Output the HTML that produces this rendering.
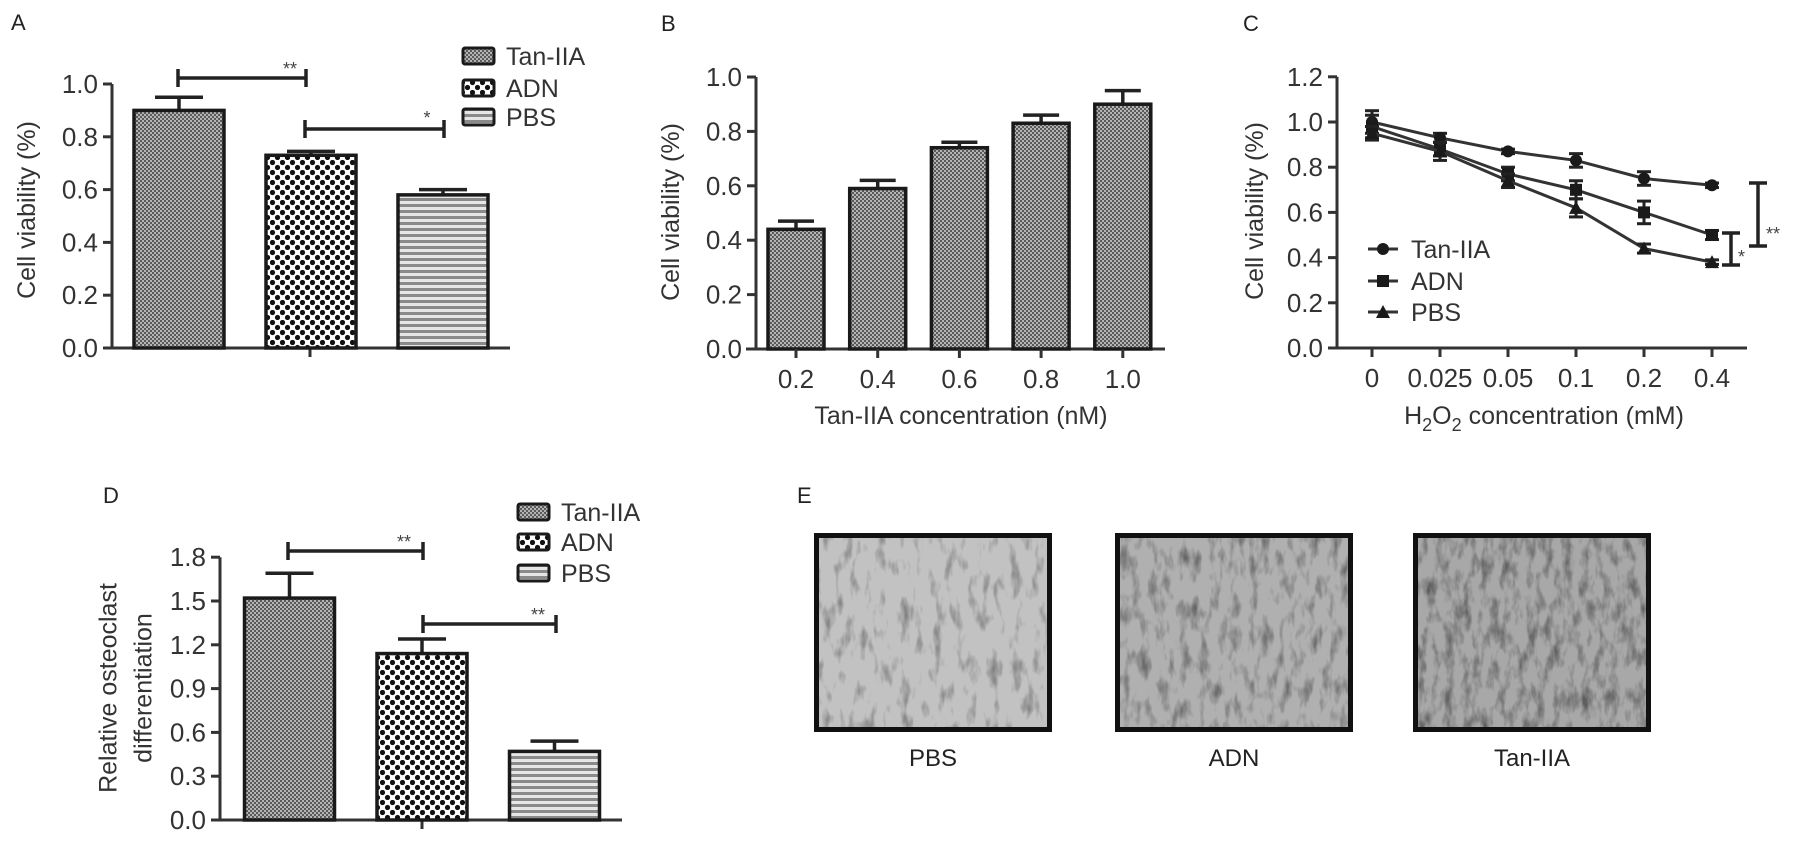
<!DOCTYPE html>
<html><head><meta charset="utf-8"><style>
html,body{margin:0;padding:0;background:#fff;}
svg{display:block;font-family:"Liberation Sans",Arial,sans-serif;}
</style></head><body>
<svg id="fig" width="1795" height="842" viewBox="0 0 1795 842" xmlns="http://www.w3.org/2000/svg">
<defs>
<pattern id="patTan" width="4" height="4" patternUnits="userSpaceOnUse"><rect width="4" height="4" fill="#b4b4b4"/><rect width="2" height="2" fill="#5a5a5a"/><rect x="2" y="2" width="2" height="2" fill="#5a5a5a"/></pattern>
<pattern id="patADN" width="10" height="10" patternUnits="userSpaceOnUse"><rect width="10" height="10" fill="#fff"/><circle cx="2.5" cy="2.5" r="2.6" fill="#111"/><circle cx="7.5" cy="7.5" r="2.6" fill="#111"/></pattern>
<pattern id="patPBS" width="6" height="6" patternUnits="userSpaceOnUse"><rect width="6" height="6" fill="#e6e6e6"/><rect y="0" width="6" height="3" fill="#8a8a8a"/></pattern>
<filter id="cells1" x="0" y="0" width="100%" height="100%"><feTurbulence type="fractalNoise" baseFrequency="0.09 0.035" numOctaves="3" seed="3"/><feColorMatrix type="matrix" values="0 0 0 0 0  0 0 0 0 0  0 0 0 0 0  0 0 0 -2.2 1.05"/><feComponentTransfer><feFuncA type="linear" slope="0.45"/></feComponentTransfer></filter>
<filter id="cells2" x="0" y="0" width="100%" height="100%"><feTurbulence type="fractalNoise" baseFrequency="0.1 0.04" numOctaves="3" seed="7"/><feColorMatrix type="matrix" values="0 0 0 0 0  0 0 0 0 0  0 0 0 0 0  0 0 0 -2.2 1.15"/><feComponentTransfer><feFuncA type="linear" slope="0.45"/></feComponentTransfer></filter>
<filter id="cells3" x="0" y="0" width="100%" height="100%"><feTurbulence type="fractalNoise" baseFrequency="0.11 0.045" numOctaves="3" seed="11"/><feColorMatrix type="matrix" values="0 0 0 0 0  0 0 0 0 0  0 0 0 0 0  0 0 0 -2.2 1.25"/><feComponentTransfer><feFuncA type="linear" slope="0.45"/></feComponentTransfer></filter>
</defs>
</svg>
<script>
// ---- Panel A data ----
const aCategories = ["Tan-IIA","ADN","PBS"];
const aValues = [0.90, 0.73, 0.58];
const aErrors = [0.05, 0.015, 0.02];
const aTicks = ["0.0","0.2","0.4","0.6","0.8","1.0"];
// ---- Panel B data ----
const bCategories = ["0.2","0.4","0.6","0.8","1.0"];
const bValues = [0.44, 0.59, 0.74, 0.83, 0.90];
const bErrors = [0.03, 0.03, 0.02, 0.03, 0.05];
const bTicks = ["0.0","0.2","0.4","0.6","0.8","1.0"];
// ---- Panel C data ----
const cCategories = ["0","0.025","0.05","0.1","0.2","0.4"];
const cTan = [1.00, 0.93, 0.87, 0.83, 0.75, 0.72];
const cTanErr = [0.05, 0.02, 0.01, 0.03, 0.03, 0.01];
const cADN = [0.98, 0.88, 0.77, 0.70, 0.60, 0.50];
const cADNErr = [0.05, 0.03, 0.03, 0.04, 0.05, 0.02];
const cPBS = [0.95, 0.87, 0.74, 0.62, 0.44, 0.38];
const cPBSErr = [0.03, 0.04, 0.03, 0.04, 0.02, 0.01];
const cTicks = ["0.0","0.2","0.4","0.6","0.8","1.0","1.2"];
// ---- Panel D data ----
const dCategories = ["Tan-IIA","ADN","PBS"];
const dValues = [1.52, 1.14, 0.47];
const dErrors = [0.17, 0.10, 0.07];
const dTicks = ["0.0","0.3","0.6","0.9","1.2","1.5","1.8"];

const NS = "http://www.w3.org/2000/svg";
const svg = document.getElementById("fig");
function mk(tag, attrs, parent, txt){
  const e = document.createElementNS(NS, tag);
  for (const k in attrs) e.setAttribute(k, attrs[k]);
  if (txt !== undefined) e.textContent = txt;
  (parent || svg).appendChild(e);
  return e;
}
function group(name){
  const g = mk("g", {});
  
  
  return g;
}
const pats = {"Tan-IIA":"url(#patTan)","ADN":"url(#patADN)","PBS":"url(#patPBS)"};

function label(t, x, y, g){
  const e = mk("text",{x:x,y:y,"font-size":22,fill:"#222"},g,t);
  
  
}
function yAxis(g, ax, y0, unit, step, ticks, top){
  const l = mk("line",{x1:ax,y1:y0,x2:ax,y2:y0-top*unit,stroke:"#333","stroke-width":3},g);
  
  
  ticks.forEach((t,i)=>{
    const y = y0 - i*step*unit;
    mk("line",{x1:ax-9,y1:y,x2:ax,y2:y,stroke:"#333","stroke-width":3},g);
    const tx = mk("text",{x:ax-14,y:y+9,"font-size":26,"text-anchor":"end",fill:"#333"},g,t);
    
    
  });
}
function yTitle(g, lines, cx, cy){
  lines.forEach((t,i)=>{
    const x = cx + i*35 - (lines.length-1)*17.5;
    const e = mk("text",{x:x,y:cy,"font-size":25,"text-anchor":"middle","dominant-baseline":"central",fill:"#333",transform:`rotate(-90 ${x} ${cy})`},g,t);
    
    
  });
}
function xAxisLine(g, x1, x2, y0){
  const l = mk("line",{x1:x1,y1:y0,x2:x2,y2:y0,stroke:"#333","stroke-width":3},g);
  
  
}
function bars(g, cats, vals, errs, y0, unit, cx0, stepX, w, capW, fillFn, xLabels){
  vals.forEach((v,i)=>{
    const cx = cx0 + i*stepX;
    const top = y0 - v*unit;
    const et = y0 - (v+errs[i])*unit;
    mk("line",{x1:cx,y1:top,x2:cx,y2:et,stroke:"#222","stroke-width":3.5},g);
    mk("line",{x1:cx-capW/2,y1:et,x2:cx+capW/2,y2:et,stroke:"#222","stroke-width":3.5},g);
    const r = mk("rect",{x:cx-w/2,y:top,width:w,height:v*unit,fill:fillFn(cats[i]),stroke:"#1a1a1a","stroke-width":3.5},g);
    
    
    if (xLabels){
      mk("line",{x1:cx,y1:y0,x2:cx,y2:y0+9,stroke:"#333","stroke-width":3},g);
      const t = mk("text",{x:cx,y:y0+39,"font-size":26,"text-anchor":"middle",fill:"#333"},g,cats[i]);
      
      
    }
  });
}
function hBracket(g, x1, x2, y, stars, sx, sy){
  mk("line",{x1:x1,y1:y,x2:x2,y2:y,stroke:"#222","stroke-width":3.5},g);
  mk("line",{x1:x1,y1:y-9,x2:x1,y2:y+9,stroke:"#222","stroke-width":3.5},g);
  mk("line",{x1:x2,y1:y-9,x2:x2,y2:y+9,stroke:"#222","stroke-width":3.5},g);
  const t = mk("text",{x:sx,y:sy,"font-size":18,"text-anchor":"middle",fill:"#444"},g,stars);
  
  
}
function barLegend(g, x, ys, names){
  names.forEach((n,i)=>{
    const s = mk("rect",{x:x,y:ys[i]-8,width:31,height:16,rx:2,fill:pats[n],stroke:"#1a1a1a","stroke-width":3},g);
    
    
    const t = mk("text",{x:x+43,y:ys[i]+9,"font-size":25,fill:"#333"},g,n);
    
    
  });
}

// ===== Panel A =====
(function(){
  const g = group("panel-a");
  label("A", 11, 30, g);
  const ax=112, y0=348, unit=264;
  yAxis(g, ax, y0, unit, 0.2, aTicks, 1.0);
  xAxisLine(g, 104, 510, y0);
  mk("line",{x1:310,y1:y0,x2:310,y2:y0+9,stroke:"#333","stroke-width":3},g);
  bars(g, aCategories, aValues, aErrors, y0, unit, 179, 132, 90, 48, c=>pats[c], false);
  yTitle(g, ["Cell viability (%)"], 27, 210);
  hBracket(g, 178, 306, 78, "**", 290, 75);
  hBracket(g, 305, 444, 129, "*", 427, 124);
  barLegend(g, 463, [56, 88, 117], ["Tan-IIA","ADN","PBS"]);
})();

// ===== Panel B =====
(function(){
  const g = group("panel-b");
  label("B", 661, 31, g);
  const ax=756, y0=349, unit=272;
  yAxis(g, ax, y0, unit, 0.2, bTicks, 1.0);
  xAxisLine(g, 746, 1165, y0);
  bars(g, bCategories, bValues, bErrors, y0, unit, 796, 81.7, 56, 36, c=>pats["Tan-IIA"], true);
  yTitle(g, ["Cell viability (%)"], 671, 212);
  const t = mk("text",{x:961,y:424,"font-size":25,"text-anchor":"middle",fill:"#333"},g,"Tan-IIA concentration (nM)");
  
  
})();

// ===== Panel C =====
(function(){
  const g = group("panel-c");
  label("C", 1243, 31, g);
  const ax=1337, y0=348, unit=226;
  yAxis(g, ax, y0, unit, 0.2, cTicks, 1.2);
  xAxisLine(g, 1332, 1747, y0);
  const xs = i => 1372 + i*68;
  cCategories.forEach((c,i)=>{
    mk("line",{x1:xs(i),y1:y0,x2:xs(i),y2:y0+9,stroke:"#333","stroke-width":3},g);
    const t = mk("text",{x:xs(i),y:y0+39,"font-size":26,"text-anchor":"middle",fill:"#333"},g,c);
    
    
  });
  const Y = v => y0 - v*unit;
  const series = [["tan-iia",cTan,cTanErr,"circle"],["adn",cADN,cADNErr,"square"],["pbs",cPBS,cPBSErr,"triangle"]];
  series.forEach(([name,vals,errs,shape])=>{
    const sg = mk("g",{},g);
    
    
    const p = mk("polyline",{points:vals.map((v,i)=>xs(i)+","+Y(v)).join(" "),fill:"none",stroke:"#333","stroke-width":3},sg);
    
    
    vals.forEach((v,i)=>{
      const x=xs(i), y=Y(v), e=errs[i]*unit;
      mk("line",{x1:x,y1:y-e,x2:x,y2:y+e,stroke:"#222","stroke-width":3},sg);
      mk("line",{x1:x-7,y1:y-e,x2:x+7,y2:y-e,stroke:"#222","stroke-width":3},sg);
      mk("line",{x1:x-7,y1:y+e,x2:x+7,y2:y+e,stroke:"#222","stroke-width":3},sg);
      let m;
      if (shape==="circle") m = mk("circle",{cx:x,cy:y,r:6,fill:"#1a1a1a"},sg);
      else if (shape==="square") m = mk("rect",{x:x-6,y:y-6,width:12,height:12,fill:"#1a1a1a"},sg);
      else m = mk("polygon",{points:`${x},${y-7} ${x-7},${y+6} ${x+7},${y+6}`,fill:"#1a1a1a"},sg);
      
      
    });
  });
  const ly=[249,281,312], ln=["Tan-IIA","ADN","PBS"], ls=["circle","square","triangle"];
  ln.forEach((n,i)=>{
    const lg = mk("g",{},g);
    
    
    mk("line",{x1:1368,y1:ly[i],x2:1398,y2:ly[i],stroke:"#333","stroke-width":3},lg);
    if (ls[i]==="circle") mk("circle",{cx:1383,cy:ly[i],r:6,fill:"#1a1a1a"},lg);
    else if (ls[i]==="square") mk("rect",{x:1377,y:ly[i]-6,width:12,height:12,fill:"#1a1a1a"},lg);
    else mk("polygon",{points:`1383,${ly[i]-7} 1376,${ly[i]+6} 1390,${ly[i]+6}`,fill:"#1a1a1a"},lg);
    mk("text",{x:1411,y:ly[i]+9,"font-size":25,fill:"#333"},lg,n);
  });
  yTitle(g, ["Cell viability (%)"], 1255, 211);
  const t = mk("text",{x:1544,y:424,"font-size":25,"text-anchor":"middle",fill:"#333"},g);
  
  
  mk("tspan",{},t,"H");
  mk("tspan",{dy:7,"font-size":18},t,"2");
  mk("tspan",{dy:-7},t,"O");
  mk("tspan",{dy:7,"font-size":18},t,"2");
  mk("tspan",{dy:-7},t," concentration (mM)");
  function vb(x, y1, y2, stars, sx, sy){
    mk("line",{x1:x,y1:y1,x2:x,y2:y2,stroke:"#222","stroke-width":3.5},g);
    mk("line",{x1:x-9,y1:y1,x2:x+9,y2:y1,stroke:"#222","stroke-width":3.5},g);
    mk("line",{x1:x-9,y1:y2,x2:x+9,y2:y2,stroke:"#222","stroke-width":3.5},g);
    const s = mk("text",{x:sx,y:sy,"font-size":18,fill:"#444"},g,stars);
    
    
  }
  vb(1758, 183, 246, "**", 1766, 240);
  vb(1731, 233, 265, "*", 1738, 263);
})();

// ===== Panel D =====
(function(){
  const g = group("panel-d");
  label("D", 103, 503, g);
  const ax=220, y0=820, unit=146;
  yAxis(g, ax, y0, unit, 0.3, dTicks, 1.8);
  xAxisLine(g, 212, 622, y0);
  mk("line",{x1:422,y1:y0,x2:422,y2:y0+9,stroke:"#333","stroke-width":3},g);
  bars(g, dCategories, dValues, dErrors, y0, unit, 289.5, 132.5, 90, 48, c=>pats[c], false);
  yTitle(g, ["Relative osteoclast","differentiation"], 126, 688);
  hBracket(g, 288, 423, 551, "**", 404, 548);
  hBracket(g, 423, 556, 624, "**", 538, 621);
  barLegend(g, 518, [512, 542, 573], ["Tan-IIA","ADN","PBS"]);
})();

// ===== Panel E =====
(function(){
  const g = group("panel-e");
  label("E", 797, 503, g);
  const frames = [["PBS",814,"#c2c2c2","cells1"],["ADN",1115,"#b0b0b0","cells2"],["Tan-IIA",1413,"#a8a8a8","cells3"]];
  frames.forEach(([n,x,col,f])=>{
    const fg = mk("g",{},g);
    
    
    mk("rect",{x:x,y:533,width:238,height:199,fill:col},fg);
    mk("rect",{x:x,y:533,width:238,height:199,fill:"#555",filter:`url(#${f})`},fg);
    mk("rect",{x:x+2.5,y:535.5,width:233,height:194,fill:"none",stroke:"#111","stroke-width":5},fg);
    const t = mk("text",{x:x+119,y:766,"font-size":24,"text-anchor":"middle",fill:"#222"},fg,n);
    
    
  });
})();
</script>
</body></html>
